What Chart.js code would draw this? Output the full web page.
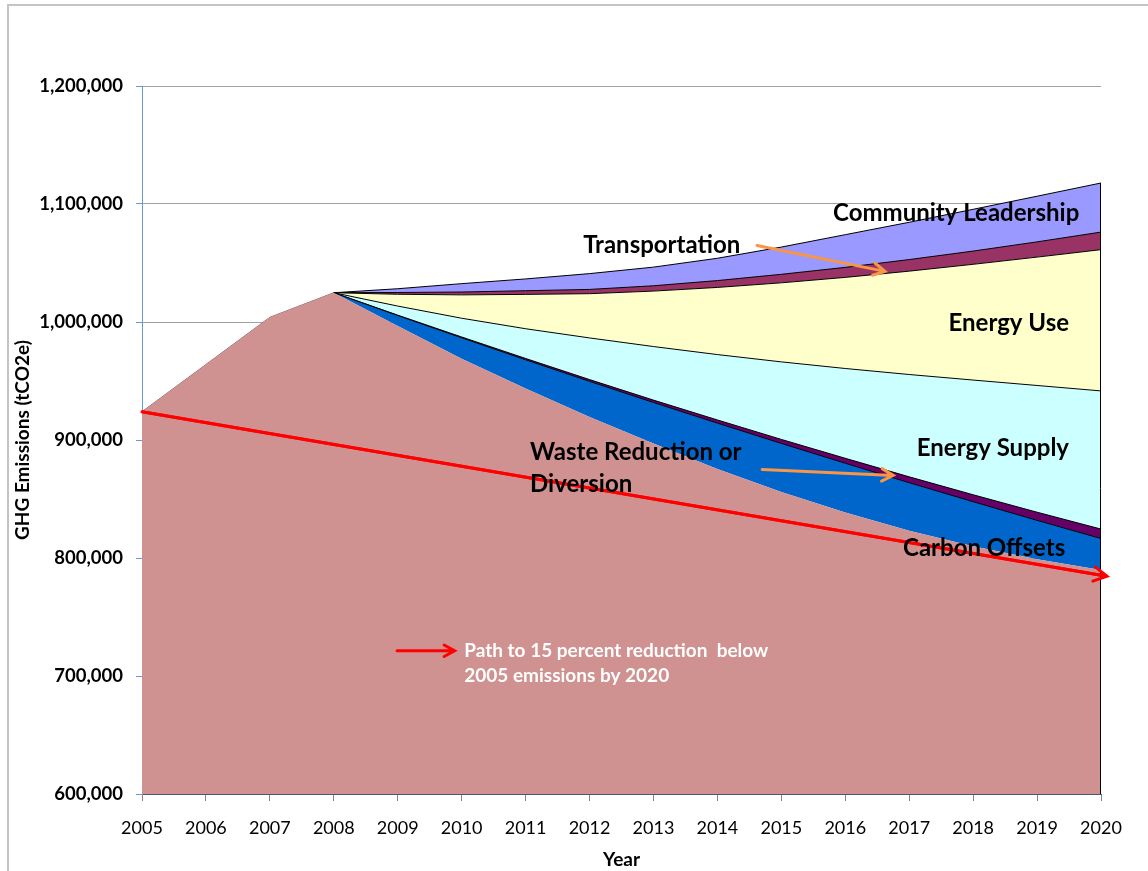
<!DOCTYPE html>
<html>
<head>
<meta charset="utf-8">
<script src="https://cdn.jsdelivr.net/npm/chart.js@4"></script>
<style>
  html, body { margin: 0; padding: 0; background: #fff; }
  #wrap { position: relative; width: 1148px; height: 871px; overflow: hidden; }
  #frame { position: absolute; left: 7px; top: 4px; width: 1300px; height: 1000px;
           border-left: 2px solid #c4c4c4; border-top: 2px solid #c4c4c4; }
  canvas { position: absolute; left: 0; top: 0; }
</style>
</head>
<body>
<div id="wrap">
  <div id="frame"></div>
  <canvas id="ghgChart" width="1148" height="871"></canvas>
</div>
<script>
const years = ['2005', '2006', '2007', '2008', '2009', '2010', '2011', '2012',
               '2013', '2014', '2015', '2016', '2017', '2018', '2019', '2020'];

// tCO2e, stacked from the bottom up
const baseline = [924000, 964000, 1004000, 1024800, 996700, 968900, 943700, 919400,
                  897000, 875500, 856000, 838500, 823000, 810000, 799000, 789800];
const carbonOffsets = [0, 0, 0, 0, 8800, 17700, 24300, 30300,
                       34800, 38800, 41100, 41800, 40800, 37700, 32900, 26700];
const wasteDiversion = [0, 0, 0, 0, 300, 700, 1100, 1500,
                        2000, 2700, 3400, 4200, 5000, 5900, 6900, 8000];
const energySupply = [0, 0, 0, 0, 7700, 15900, 25200, 35300,
                      45400, 55400, 65700, 76100, 86700, 97200, 107400, 117100];
const energyUse = [0, 0, 0, 0, 10000, 19800, 29100, 37500,
                   47000, 56900, 67000, 77200, 87600, 98100, 108800, 119700];
const transportation = [0, 0, 0, 0, 1500, 2400, 3100, 3600,
                        4500, 5800, 7200, 8500, 9800, 11200, 12900, 14900];
const communityLeadership = [0, 0, 0, 0, 3200, 7100, 10000, 13400,
                             15800, 18900, 23100, 27700, 31600, 35400, 38700, 41600];

// 15% below 2005 by 2020
const targetPath = [924000, null, null, null, null, null, null, null,
                    null, null, null, null, null, null, null, 785400];

const yTicks = [600000, 700000, 800000, 900000, 1000000, 1100000, 1200000];

Chart.defaults.font.family = 'Lato, "Open Sans", sans-serif';
Chart.defaults.color = '#000';

function area(label, data, color, earlyEdge) {
  return {
    label, data,
    fill: '-1',
    backgroundColor: color,
    borderColor: '#000',
    borderWidth: 1,
    segment: { borderColor: c => c.p0DataIndex < 3 ? earlyEdge : '#000' },
    pointRadius: 0,
    stack: 'wedges'
  };
}

// label anchors in data units: x = year index, y = tCO2e
const notes = [
  { text: 'Community Leadership', x: 14.66, y: 1092100, align: 'right' },
  { text: 'Transportation', x: 6.90, y: 1064900, align: 'left' },
  { text: 'Energy Use', x: 14.50, y: 998800, align: 'right' },
  { text: 'Energy Supply', x: 14.50, y: 892800, align: 'right' },
  { text: 'Waste Reduction or', x: 6.07, y: 889400, align: 'left' },
  { text: 'Diversion', x: 6.07, y: 862300, align: 'left' },
  { text: 'Carbon Offsets', x: 14.44, y: 808100, align: 'right' }
];
const pointers = [
  { from: [9.62, 1064900], to: [11.62, 1042900] },
  { from: [9.70, 875100], to: [11.75, 870000] }
];

function drawArrow(ctx, x1, y1, x2, y2, color, width, head) {
  const a = Math.atan2(y2 - y1, x2 - x1);
  ctx.save();
  ctx.strokeStyle = color;
  ctx.lineWidth = width;
  ctx.lineCap = 'round';
  ctx.beginPath();
  ctx.moveTo(x1, y1);
  ctx.lineTo(x2, y2);
  ctx.moveTo(x2 - head * Math.cos(a - 0.5), y2 - head * Math.sin(a - 0.5));
  ctx.lineTo(x2, y2);
  ctx.lineTo(x2 - head * Math.cos(a + 0.5), y2 - head * Math.sin(a + 0.5));
  ctx.stroke();
  ctx.restore();
}

const overlay = {
  id: 'overlay',
  afterDatasetsDraw(chart) {
    const { ctx, scales: { x, y } } = chart;
    // closing edge of the stacked wedge at 2020
    const last = years.length - 1;
    const topPt = chart.getDatasetMeta(6).data[last];
    ctx.save();
    ctx.strokeStyle = '#000';
    ctx.lineWidth = 1;
    ctx.beginPath();
    ctx.moveTo(Math.round(topPt.x) - 0.5, topPt.y);
    ctx.lineTo(Math.round(topPt.x) - 0.5, y.bottom);
    ctx.stroke();
    ctx.restore();

    // arrow head on the target path
    const t = chart.getDatasetMeta(7).data;
    drawArrow(ctx, t[0].x, t[0].y, t[last].x + 6, t[last].y + 1, '#ff0000', 3, 15);

    ctx.save();
    ctx.font = 'bold 24px Lato, sans-serif';
    ctx.fillStyle = '#000';
    ctx.textBaseline = 'middle';
    notes.forEach(n => {
      ctx.textAlign = n.align;
      ctx.fillText(n.text, x.getPixelForValue(n.x), y.getPixelForValue(n.y));
    });
    ctx.restore();

    pointers.forEach(p => {
      drawArrow(ctx, x.getPixelForValue(p.from[0]), y.getPixelForValue(p.from[1]),
                x.getPixelForValue(p.to[0]), y.getPixelForValue(p.to[1]), '#f79646', 3, 13);
    });

    // legend for the target path
    const ly = y.getPixelForValue(721400);
    drawArrow(ctx, x.getPixelForValue(3.99), ly, x.getPixelForValue(4.89), ly, '#ff0000', 3, 12);
    ctx.save();
    ctx.font = 'bold 19px Lato, sans-serif';
    ctx.fillStyle = '#fff';
    ctx.textAlign = 'left';
    ctx.textBaseline = 'middle';
    const lx = x.getPixelForValue(5.04);
    ctx.fillText('Path to 15 percent reduction  below', lx, ly);
    ctx.fillText('2005 emissions by 2020', lx, y.getPixelForValue(700200));
    ctx.restore();
  }
};

const ctx = document.getElementById('ghgChart').getContext('2d');
const ghgChart = new Chart(ctx, {
  type: 'line',
  data: {
    labels: years,
    datasets: [
      {
        label: 'Baseline', data: baseline, fill: 'start',
        backgroundColor: '#d09191', borderWidth: 0,
        pointRadius: 0, stack: 'wedges'
      },
      area('Carbon Offsets', carbonOffsets, '#0066cc', '#7d6666'),
      area('Waste Reduction or Diversion', wasteDiversion, '#660066', 'rgba(0,0,0,0)'),
      area('Energy Supply', energySupply, '#ccffff', 'rgba(0,0,0,0)'),
      area('Energy Use', energyUse, '#ffffcc', 'rgba(0,0,0,0)'),
      area('Transportation', transportation, '#993366', 'rgba(0,0,0,0)'),
      area('Community Leadership', communityLeadership, '#9999ff', 'rgba(0,0,0,0)'),
      {
        label: 'Target', data: targetPath, fill: false, spanGaps: true,
        borderColor: '#ff0000', borderWidth: 3, pointRadius: 0,
        stack: 'target', order: -1
      }
    ]
  },
  options: {
    responsive: false,
    animation: false,
    events: [],
    layout: { padding: { left: 0, top: 86, right: 47, bottom: 0 } },
    plugins: { legend: { display: false }, tooltip: { enabled: false } },
    scales: {
      x: {
        offset: false,
        grid: { drawOnChartArea: false, tickColor: '#868686', tickLength: 7 },
        border: { color: '#4a5670', width: 1 },
        ticks: { font: { size: 18 }, padding: 16, maxRotation: 0, autoSkip: false },
        title: { display: true, text: 'Year', font: { size: 19, weight: 'bold' },
                 padding: { top: 0, bottom: 0 } },
        afterFit(scale) { scale.height = 77; }
      },
      y: {
        stacked: true,
        min: 600000,
        max: 1200000,
        afterBuildTicks(scale) { scale.ticks = yTicks.map(v => ({ value: v })); },
        grid: { color: '#a0a0a0', tickColor: '#6b97d6', tickLength: 6 },
        border: { color: '#6b97d6', width: 1 },
        ticks: {
          font: { size: 18.5, weight: 'bold' }, padding: 13,
          callback: v => v.toLocaleString('en-US')
        },
        title: { display: true, text: 'GHG Emissions (tCO2e)', font: { size: 19, weight: 'bold' },
                 padding: { top: 11, bottom: 0 } },
        afterFit(scale) { scale.width = 142; }
      }
    }
  },
  plugins: [overlay]
});
</script>
</body>
</html>
